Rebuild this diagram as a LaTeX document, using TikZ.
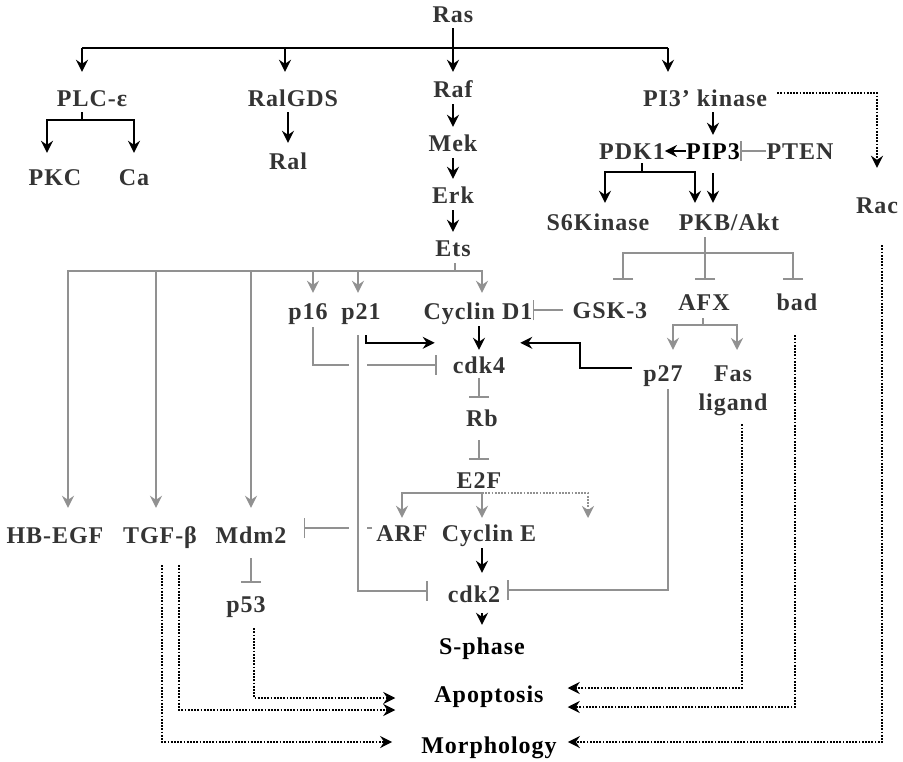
\documentclass[tikz,border=0pt]{standalone}
\usepackage{fontspec}
\newfontfamily\pathfont{Liberation Serif}[LetterSpace=4]
\usetikzlibrary{arrows.meta,positioning,calc}
\definecolor{txt}{RGB}{52,52,52}
\definecolor{gline}{RGB}{145,145,145}

\begin{document}
\begin{tikzpicture}[
  x=1pt, y=-1pt,
  lbls/.style={inner sep=0pt, text=txt,
    font=\pathfont\bfseries\fontsize{24}{29}\selectfont},
  lbl/.style={lbls, text height=16pt, text depth=0pt},
  blk/.style={line width=1.8pt},
  act/.style={-{Stealth[length=12pt,width=12pt,inset=4pt]}, line width=1.8pt},
  gln/.style={line width=1.8pt, gline},
  gact/.style={-{Stealth[length=12pt,width=12pt,inset=4pt]}, line width=1.8pt, gline},
  inh/.style={-{Bar[width=20pt]}, line width=1.8pt, gline},
  dact/.style={-{Stealth[length=12pt,width=12pt,inset=4pt]}, line width=2pt,
    dash pattern=on 1.8pt off 1.4pt}
]
\useasboundingbox (0,0) rectangle (903,761);

\node[lbl] (ras) at (453,14) {Ras};
\node[lbl] (plc) at (92,98) {PLC-ε};
\node[lbl] (ralgds) at (293,98) {RalGDS};
\node[lbl] (raf) at (453,89) {Raf};
\node[lbl] (pik) at (705,98) {PI3’ kinase};
\node[lbl] (pkc) at (55,177) {PKC};
\node[lbl] (ca) at (134,177) {Ca};
\node[lbl] (ral) at (288,161) {Ral};
\node[lbl] (mek) at (453,143) {Mek};
\node[lbl] (erk) at (453,195) {Erk};
\node[lbl] (ets) at (453,248) {Ets};
\node[lbl] (pdk1) at (632,151) {PDK1};
\node[lbl, text=black] (pip3) at (713,151) {PIP3};
\node[lbl] (pten) at (800,151) {PTEN};
\node[lbl] (rac) at (877,205) {Rac};
\node[lbl] (s6k) at (598,222) {S6Kinase};
\node[lbl] (pkb) at (729,222) {PKB/Akt};
\node[lbl] (p16) at (308,311) {p16};
\node[lbl] (p21) at (361,311) {p21};
\node[lbl] (cycd) at (478,311) {Cyclin D1};
\node[lbl] (gsk) at (610,310) {GSK-3};
\node[lbl] (afx) at (704,302) {AFX};
\node[lbl] (bad) at (797,302) {bad};
\node[lbl] (cdk4) at (479,365) {cdk4};
\node[lbl] (p27) at (663,373) {p27};
\node[lbls, align=center, anchor=north] (fasl) at (733,366) {Fas\\ligand};
\node[lbl] (rb) at (482,418) {Rb};
\node[lbl] (e2f) at (479,480) {E2F};
\node[lbl] (hbegf) at (55,535) {HB-EGF};
\node[lbl] (tgfb) at (160,535) {TGF-β};
\node[lbl] (mdm2) at (251,535) {Mdm2};
\node[lbl] (arf) at (402,533) {ARF};
\node[lbl] (cyce) at (489,533) {Cyclin E};
\node[lbl] (cdk2) at (474,594) {cdk2};
\node[lbl] (p53) at (246,604) {p53};
\node[lbl, text=black] (sph) at (482,646) {S-phase};
\node[lbl, text=black] (apop) at (489,694) {Apoptosis};
\node[lbl, text=black] (morph) at (489,745) {Morphology};

\coordinate (busl) at (82,48);
\coordinate (busm) at (285,48);
\coordinate (busr) at (668,48);
\coordinate (plcj) at (82,120);
\coordinate (pdkj) at (642,172);
\coordinate (pkbj) at (705,253);
\coordinate (etsj) at (455,271);
\coordinate (afxj) at (703,325);
\coordinate (p27k) at (580,368);
\coordinate (e2fj) at (482,493);
\coordinate (e2fx) at (588,518);

\draw[blk] (busl) -- (busr);
\draw[act, shorten <=6pt, shorten >=9pt] (ras) -- (raf);
\draw[act, shorten >=18pt] (busl) -- (busl |- plc.north);
\draw[act, shorten >=18pt] (busm) -- (busm |- ralgds.north);
\draw[act, shorten >=18pt] (busr) -- (busr |- pik.north);

\draw[blk, shorten <=6pt] (plcj |- plc.south) -- (plcj);
\draw[act, shorten >=16pt] (plcj) -| ([xshift=-8pt]pkc.north);
\draw[act, shorten >=16pt] (plcj) -| (ca.north);
\draw[act, shorten <=6pt, shorten >=10pt] (ral |- ralgds.south) -- (ral.north);

\draw[act, shorten <=7pt, shorten >=8pt] (raf) -- (mek);
\draw[act, shorten <=7pt, shorten >=8pt] (mek) -- (erk);
\draw[act, shorten <=7pt, shorten >=8pt] (erk) -- (ets);

\draw[act, shorten <=6pt, shorten >=8pt] (pip3 |- pik.south) -- (pip3.north);
\draw[dact, shorten <=10pt, shorten >=29pt] ([yshift=5pt]pik.east) -| (rac.north);
\draw[act] (pip3) -- (pdk1);
\draw[inh] (pten) -- (pip3);

\draw[blk, shorten <=4pt] (pdkj |- pdk1.south) -- (pdkj);
\draw[act, shorten >=11pt] (pdkj) -| ([xshift=7pt]s6k.north);
\draw[act, shorten >=11pt] (pdkj) -| ([xshift=-34pt]pkb.north);
\draw[act, shorten <=14pt, shorten >=11pt] (pip3.south) -- (pip3.south |- pkb.north);

\draw[gln, shorten <=7pt] (pkbj |- pkb.south) -- (pkbj);
\draw[inh, shorten >=22pt] (pkbj) -| ([xshift=13pt]gsk.north);
\draw[inh, shorten >=14pt] (pkbj) -- (pkbj |- afx.north);
\draw[inh, shorten >=14pt] (pkbj) -| ([xshift=-4pt]bad.north);
\draw[inh, shorten <=10pt] (gsk.west) -- (gsk.west -| cycd.east);

\draw[gln, shorten <=8pt] (afxj |- afx.south) -- (afxj);
\draw[gact, shorten >=15pt] (afxj) -| ([xshift=10pt]p27.north);
\draw[gact, shorten >=16pt] (afxj) -| ([xshift=4pt]fasl.north);
\draw[act, shorten <=11pt] (p27.west |- p27k) -- (p27k) |- ([xshift=15pt,yshift=14pt]cdk4.north east);
\draw[act, shorten <=7pt, shorten >=7pt] (cdk4 |- cycd.south) -- (cdk4.north);

\draw[gln, shorten <=7pt] (etsj |- ets.south) -- (etsj);
\draw[gact, shorten >=10pt] (etsj) -| ([xshift=5pt]p16.north);
\draw[gact, shorten >=10pt] (etsj) -| ([xshift=-3pt]p21.north);
\draw[gact, shorten >=10pt] (etsj) -| ([xshift=4pt]cycd.north);
\draw[gact, shorten >=19pt] (etsj) -| ([xshift=13pt]hbegf.north);
\draw[gact, shorten >=19pt] (etsj) -| ([xshift=-4pt]tgfb.north);
\draw[gact, shorten >=19pt] (etsj) -| (mdm2.north);

\draw[inh, shorten <=8pt, shorten >=16pt] ([xshift=5pt]p16.south) |- (cdk4.west);
\draw[inh, shorten >=17pt] ([xshift=-4pt,yshift=5pt]arf.west) -- ([yshift=5pt]arf.west -| mdm2.east);
\draw[inh, shorten <=16pt, shorten >=20pt, preaction={draw=white, line width=18pt, -}]
  ([xshift=-3pt]p21.south) |- ([yshift=3pt]cdk2.west);
\draw[act] ([xshift=5pt,yshift=-16pt]p21.south) |- ([xshift=-18pt,yshift=14pt]cdk4.north west);

\draw[inh, shorten <=5pt, shorten >=12pt] (cdk4.south) -- (cdk4.south |- rb.north);
\draw[inh, shorten <=14pt, shorten >=12pt] (rb.south -| e2f) -- (e2f.north);
\draw[gact, shorten >=7pt] (e2fj) -| (arf.north);
\draw[gact, shorten >=7pt] (e2fj) -- (e2fj |- cyce.north);
\draw[gact, dash pattern=on 1.8pt off 1.4pt] (e2fj) -| (e2fx);
\draw[act, shorten <=7pt, shorten >=13pt] (e2fj |- cyce.south) -- (e2fj |- cdk2.north);
\draw[act, shorten <=11pt, shorten >=13pt] (e2fj |- cdk2.south) -- (e2fj |- sph.north);
\draw[inh, shorten <=8pt, shorten >=7pt] ([xshift=5pt]p27.south) |- ([yshift=4pt]cdk2.east);
\draw[inh, shorten <=15pt, shorten >=13pt] (mdm2.south) -- (mdm2.south |- p53.north);

\draw[dact, shorten <=16pt, shorten >=39pt] ([xshift=8pt]p53.south) |- ([yshift=-4pt]apop.west);
\draw[dact, shorten <=22pt, shorten >=39pt] ([xshift=19pt]tgfb.south) |- ([yshift=-16pt]apop.west);
\draw[dact, shorten <=22pt, shorten >=29pt] ([xshift=2pt]tgfb.south) |- ([yshift=3pt]morph.west);
\draw[dact, shorten <=8pt, shorten >=24pt] ([xshift=9pt]fasl.south) |- ([yshift=6pt]apop.east);
\draw[dact, shorten <=25pt, shorten >=24pt] ([xshift=-2pt]bad.south) |- ([yshift=-13pt]apop.east);
\draw[dact, shorten <=32pt, shorten >=11pt] ([xshift=5pt]rac.south) |- ([yshift=3pt]morph.east);

\end{tikzpicture}
\end{document}
